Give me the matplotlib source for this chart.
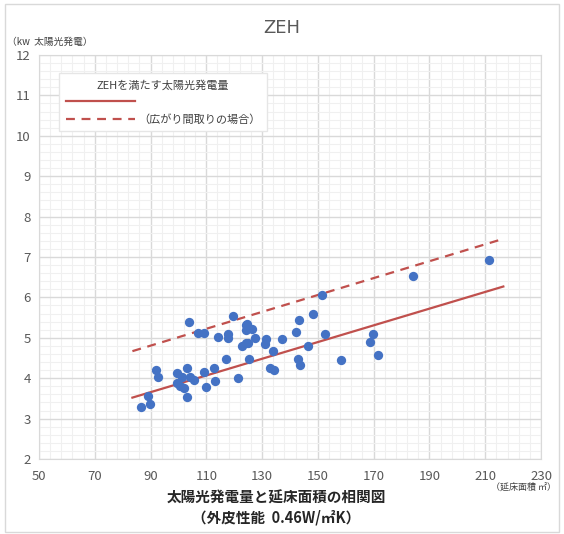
import numpy as np
import matplotlib
matplotlib.use('Agg')
import matplotlib.pyplot as plt
from matplotlib.patches import Rectangle

plt.rcParams['font.family'] = ['Noto Sans CJK JP', 'DejaVu Sans']

# 延床面積 (㎡) と 太陽光発電量 (kW)
area = [86.5, 89.2, 89.7, 91.9, 92.6, 99.5, 99.4, 100.4, 101.3, 102.1,
        103.1, 103.1, 103.8, 104.0, 105.5, 107.0, 109.1, 109.1, 109.8, 112.8,
        113.1, 114.1, 116.9, 117.9, 117.8, 119.7, 121.2, 122.8, 124.1, 125.0,
        125.4, 124.1, 124.7, 124.2, 126.4, 127.6, 130.9, 131.3, 133.9, 132.8,
        134.4, 137.1, 142.3, 143.4, 143.0, 143.7, 146.3, 148.1, 151.5, 152.7,
        158.2, 168.6, 169.9, 171.4, 184.0, 211.2]
power = [3.29, 3.55, 3.37, 4.20, 4.04, 4.12, 3.87, 3.80, 4.03, 3.76,
         4.25, 3.53, 5.39, 4.02, 3.95, 5.13, 5.13, 4.15, 3.78, 4.26,
         3.93, 5.03, 4.48, 5.09, 4.99, 5.55, 4.01, 4.80, 4.86, 4.86,
         4.48, 5.32, 5.34, 5.19, 5.21, 5.00, 4.85, 4.96, 4.68, 4.25,
         4.20, 4.97, 5.14, 5.44, 4.48, 4.33, 4.79, 5.59, 6.06, 5.09,
         4.46, 4.90, 5.09, 4.58, 6.54, 6.92]

# ZEHライン
line_x = [83.5, 216.5]
zeh_y = [3.52, 6.27]
wide_y = [4.67, 7.45]

xticks = list(range(50, 231, 20))
yticks = list(range(2, 13))

red = '#C0504D'
blue = '#4472C4'

fig = plt.figure(figsize=(5.64, 5.34), dpi=100)
fig.patches.append(Rectangle((0.008, 0.004), 0.984, 0.988, transform=fig.transFigure,
                             fill=False, edgecolor='#d9d9d9', linewidth=1))
ax = fig.add_axes([0.0691, 0.1404, 0.8901, 0.7566])

ax.set_xlim(50, 230)
ax.set_ylim(2, 12)
ax.set_xticks(xticks)
ax.set_xticks(np.arange(50, 231, 4), minor=True)
ax.set_yticks(yticks)
ax.set_yticks(np.arange(2, 12.01, 0.2), minor=True)
ax.grid(which='major', color='#d9d9d9', linewidth=1)
ax.grid(which='minor', color='#f0f0f0', linewidth=0.8)
ax.set_axisbelow(True)
for s in ax.spines.values():
    s.set_color('#d9d9d9')
ax.tick_params(which='both', length=0, colors='#595959', labelsize=9.5)
ax.tick_params(axis='x', pad=8)
ax.tick_params(axis='y', pad=6)

ax.scatter(area, power, s=45, color=blue, zorder=3, linewidths=0)
l1, = ax.plot(line_x, zeh_y, color=red, linewidth=1.6, zorder=2)
l2, = ax.plot(line_x, wide_y, color=red, linewidth=1.6, linestyle=(0, (4, 3)), zorder=2)

leg = ax.legend([l1, l2], ['', '（広がり間取りの場合）'], title='ZEHを満たす太陽光発電量',
                loc='upper left', bbox_to_anchor=(0.04, 0.955), fontsize=8,
                title_fontsize=8, handlelength=6.2, handletextpad=0.3,
                fancybox=False, edgecolor='#e6e6e6', framealpha=1,
                borderpad=0.6, labelspacing=0.6, borderaxespad=0)
leg.get_title().set_color('#404040')
for t in leg.get_texts():
    t.set_color('#404040')

fig.text(0.5, 0.948, 'ZEH', ha='center', va='center', fontsize=13, color='#595959',
         family=['DejaVu Sans'])
fig.text(0.012, 0.922, '（kw  太陽光発電）', ha='left', va='center', fontsize=7, color='#404040')
fig.text(0.985, 0.088, '（延床面積 ㎡）', ha='right', va='center', fontsize=6.5, color='#404040')
fig.text(0.49, 0.068, '太陽光発電量と延床面積の相関図', ha='center', va='center',
         fontsize=10.5, fontweight='bold', color='#262626')
fig.text(0.49, 0.030, '（外皮性能  0.46W/㎡K）', ha='center', va='center',
         fontsize=10.5, fontweight='bold', color='#262626')

plt.savefig('out.png', dpi=100)
